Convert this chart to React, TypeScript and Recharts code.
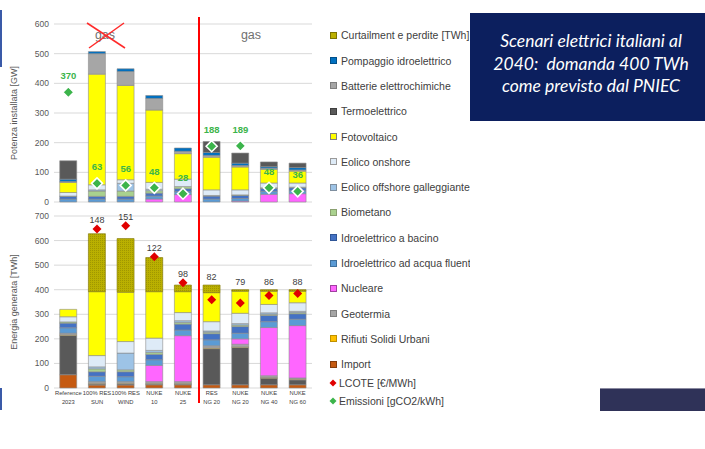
import React from 'react';
import { ComposedChart, Bar, Line, XAxis, YAxis, CartesianGrid, LabelList } from 'recharts';

const scenarios = [
  'Reference\n2023',
  '100% RES\nSUN',
  '100% RES\nWIND',
  'NUKE\n10',
  'NUKE\n25',
  'RES\nNG 20',
  'NUKE\nNG 20',
  'NUKE\nNG 40',
  'NUKE\nNG 60',
];

// Potenza installata [GW]
const gwNucleare = [0, 0, 0, 10, 25, 0, 3, 26, 28];
const gwIdroFluente = [10, 10, 10, 10, 10, 10, 9, 10, 10];
const gwIdroBacino = [9, 9, 9, 10, 10, 10, 10, 10, 10];
const gwBiometano = [1, 18, 18, 8, 7, 2, 2, 2, 2];
const gwEolicoOffshore = [0, 4, 26, 5, 0, 0, 0, 0, 0];
const gwEolicoOnshore = [12, 17, 12, 23, 25, 19, 17, 16, 14];
const gwFotovoltaico = [34, 373, 318, 244, 86, 110, 77, 46, 40];
const gwBatterie = [3, 69, 47, 39, 8, 6, 5, 4, 4];
const gwPompaggio = [8, 7, 9, 10, 11, 10, 8, 5, 8];
const gwTermo = [62, 0, 0, 0, 0, 37, 34, 16, 15];
const emissioni = [370, 63, 56, 48, 28, 188, 189, 48, 36];

// Energia generata [TWh]
const twhImport = [54, 12, 12, 13, 13, 13, 13, 13, 13];
const twhTermo = [160, 4, 4, 3, 3, 147, 152, 27, 20];
const twhRifiuti = [3, 3, 3, 3, 3, 3, 3, 3, 3];
const twhGeotermia = [6, 7, 7, 7, 7, 9, 10, 7, 5];
const twhNucleare = [0, 0, 0, 66, 187, 0, 22, 196, 213];
const twhIdroFluente = [22, 22, 20, 23, 23, 24, 23, 24, 26];
const twhIdroBacino = [19, 18, 20, 22, 24, 25, 27, 25, 22];
const twhBiometano = [5, 12, 8, 8, 7, 6, 6, 5, 5];
const twhEolicoOffshore = [0, 8, 68, 8, 7, 5, 6, 6, 5];
const twhEolicoOnshore = [21, 46, 47, 50, 33, 38, 42, 34, 35];
const twhFotovoltaico = [30, 260, 201, 189, 85, 118, 90, 54, 47];
const twhCurtailment = [0, 236, 218, 139, 27, 31, 6, 6, 6];
const lcote: (number | null)[] = [null, 148, 151, 122, 98, 82, 79, 86, 88];

const gwTicks = [0, 100, 200, 300, 400, 500, 600];
const twhTicks = [0, 100, 200, 300, 400, 500, 600, 700];
const TWH_MAX = 700;
const LCOTE_MAX = 160;

const FONT = '"Liberation Sans", Arial, sans-serif';
const TEXT_GREY = '#595959';
const SEG_STROKE = '#8c8c8c';

const COLORS = {
  curtailment: '#bcb000',
  pompaggio: '#0070c0',
  batterie: '#a6a6a6',
  termo: '#595959',
  fotovoltaico: '#ffff00',
  onshore: '#deebf7',
  offshore: '#9dc3e6',
  biometano: '#a9d18e',
  bacino: '#4472c4',
  fluente: '#5b9bd5',
  nucleare: '#ff66ff',
  geotermia: '#a5a5a5',
  rifiuti: '#ffc000',
  import: '#c55a11',
  lcote: '#e00000',
  emissioni: '#3cb44b',
};

// stacking order, bottom to top
const gwStack = [
  { key: 'nucleare', color: COLORS.nucleare, values: gwNucleare },
  { key: 'fluente', color: COLORS.fluente, values: gwIdroFluente },
  { key: 'bacino', color: COLORS.bacino, values: gwIdroBacino },
  { key: 'biometano', color: COLORS.biometano, values: gwBiometano },
  { key: 'offshore', color: COLORS.offshore, values: gwEolicoOffshore },
  { key: 'onshore', color: COLORS.onshore, values: gwEolicoOnshore },
  { key: 'fotovoltaico', color: COLORS.fotovoltaico, values: gwFotovoltaico },
  { key: 'batterie', color: COLORS.batterie, values: gwBatterie },
  { key: 'pompaggio', color: COLORS.pompaggio, values: gwPompaggio },
  { key: 'termo', color: COLORS.termo, values: gwTermo },
];

const twhStack = [
  { key: 'import', color: COLORS.import, values: twhImport },
  { key: 'termo', color: COLORS.termo, values: twhTermo },
  { key: 'rifiuti', color: COLORS.rifiuti, values: twhRifiuti },
  { key: 'geotermia', color: COLORS.geotermia, values: twhGeotermia },
  { key: 'nucleare', color: COLORS.nucleare, values: twhNucleare },
  { key: 'fluente', color: COLORS.fluente, values: twhIdroFluente },
  { key: 'bacino', color: COLORS.bacino, values: twhIdroBacino },
  { key: 'biometano', color: COLORS.biometano, values: twhBiometano },
  { key: 'offshore', color: COLORS.offshore, values: twhEolicoOffshore },
  { key: 'onshore', color: COLORS.onshore, values: twhEolicoOnshore },
  { key: 'fotovoltaico', color: COLORS.fotovoltaico, values: twhFotovoltaico },
];

const gwData = scenarios.map((name, i) => {
  const row: Record<string, unknown> = { name, emissioni: emissioni[i] };
  gwStack.forEach((s) => (row[s.key] = s.values[i]));
  return row;
});

const twhData = scenarios.map((name, i) => {
  const row: Record<string, unknown> = { name, curtailment: twhCurtailment[i], lcote: lcote[i] };
  twhStack.forEach((s) => (row[s.key] = s.values[i]));
  return row;
});

const twhTotals = scenarios.map(
  (_, i) => twhStack.reduce((sum, s) => sum + s.values[i], 0) + twhCurtailment[i]
);

const legendItems = [
  { label: 'Curtailment e perdite [TWh]', color: COLORS.curtailment, border: '#7d7400' },
  { label: 'Pompaggio idroelettrico', color: COLORS.pompaggio, border: '#004f8a' },
  { label: 'Batterie elettrochimiche', color: COLORS.batterie, border: '#7f7f7f' },
  { label: 'Termoelettrico', color: COLORS.termo, border: '#3f3f3f' },
  { label: 'Fotovoltaico', color: COLORS.fotovoltaico, border: '#7f7f7f' },
  { label: 'Eolico onshore', color: COLORS.onshore, border: '#9a9a9a' },
  { label: 'Eolico offshore galleggiante', color: COLORS.offshore, border: '#7f8f9f' },
  { label: 'Biometano', color: COLORS.biometano, border: '#8aa070' },
  { label: 'Idroelettrico a bacino', color: COLORS.bacino, border: '#2f5597' },
  { label: 'Idroelettrico ad acqua fluente', color: COLORS.fluente, border: '#41719c' },
  { label: 'Nucleare', color: COLORS.nucleare, border: '#a040a0' },
  { label: 'Geotermia', color: COLORS.geotermia, border: '#7f7f7f' },
  { label: 'Rifiuti Solidi Urbani', color: COLORS.rifiuti, border: '#bf9000' },
  { label: 'Import', color: COLORS.import, border: '#843c0c' },
];

const diamondPath = (cx: number, cy: number, r: number) =>
  `M${cx},${cy - r}L${cx + r},${cy}L${cx},${cy + r}L${cx - r},${cy}Z`;

const EmissionDot = (props: any) => {
  const { cx, cy, index } = props;
  if (cy == null || Number.isNaN(cy)) return <g key={`em-${index}`} />;
  return (
    <path
      key={`em-${index}`}
      d={diamondPath(cx, cy, 5.5)}
      fill={COLORS.emissioni}
      stroke="#ffffff"
      strokeWidth={1.6}
    />
  );
};

const LcoteDot = (props: any) => {
  const { cx, cy, index } = props;
  if (cy == null || Number.isNaN(cy)) return <g key={`lc-${index}`} />;
  return <path key={`lc-${index}`} d={diamondPath(cx, cy, 4.5)} fill={COLORS.lcote} />;
};

const EmissionLabel = (props: any) => {
  const x = props.x ?? props.viewBox?.x;
  const y = props.y ?? props.viewBox?.y;
  if (props.value == null || y == null) return null;
  return (
    <text x={x} y={y - 13} textAnchor="middle" fontSize={9.5} fontWeight="bold" fill={COLORS.emissioni} fontFamily={FONT}>
      {props.value}
    </text>
  );
};

// LCOTE value sits above the marker or above the bar, whichever is higher
const lcoteAboveBar = (i: number) => {
  const v = lcote[i];
  return v != null && v / LCOTE_MAX > twhTotals[i] / TWH_MAX;
};

const LcoteMarkerLabel = (props: any) => {
  const x = props.x ?? props.viewBox?.x;
  const y = props.y ?? props.viewBox?.y;
  const i = scenarios.indexOf(props.value);
  if (i < 0 || !lcoteAboveBar(i)) return null;
  return (
    <text x={x} y={y - 6} textAnchor="middle" fontSize={9} fill="#404040" fontFamily={FONT}>
      {lcote[i]}
    </text>
  );
};

const LcoteBarLabel = (props: any) => {
  const { x, y, width } = props;
  const i = scenarios.indexOf(props.value);
  if (i < 0 || lcote[i] == null || lcoteAboveBar(i)) return null;
  return (
    <text x={x + width / 2} y={y - 5} textAnchor="middle" fontSize={9} fill="#404040" fontFamily={FONT}>
      {lcote[i]}
    </text>
  );
};

const ScenarioTick = (props: any) => {
  const { x, y, payload } = props;
  const lines = String(payload.value).split('\n');
  return (
    <g transform={`translate(${x},${y})`}>
      <text textAnchor="middle" fontSize={5.8} fill="#404040" fontFamily={FONT}>
        {lines.map((line, i) => (
          <tspan key={i} x={0} dy={i === 0 ? 5 : 8.8}>
            {line}
          </tspan>
        ))}
      </text>
    </g>
  );
};

const tickStyle = { fontSize: 8.5, fill: TEXT_GREY, fontFamily: FONT };
const scenarioName = (row: any) => row.name;

const CapacityChart = () => (
  <ComposedChart
    width={330}
    height={214}
    data={gwData}
    margin={{ top: 24, right: 18, bottom: 12, left: 0 }}
    barCategoryGap="20%"
  >
    <CartesianGrid vertical={false} stroke="#d9d9d9" />
    <XAxis dataKey="name" hide />
    <YAxis
      domain={[0, 600]}
      ticks={gwTicks}
      width={54}
      axisLine={false}
      tickLine={false}
      tickSize={0}
      tickMargin={5}
      tick={tickStyle}
      label={{
        value: 'Potenza installata [GW]',
        angle: -90,
        position: 'insideLeft',
        offset: 14,
        style: { textAnchor: 'middle', fontSize: 9, fill: TEXT_GREY, fontFamily: FONT },
      }}
    />
    {gwStack.map((s) => (
      <Bar
        key={s.key}
        dataKey={s.key}
        stackId="gw"
        fill={s.color}
        stroke={SEG_STROKE}
        strokeWidth={0.6}
        isAnimationActive={false}
      />
    ))}
    <Line
      dataKey="emissioni"
      stroke="none"
      dot={EmissionDot}
      activeDot={false}
      isAnimationActive={false}
    >
      <LabelList dataKey="emissioni" content={EmissionLabel} />
    </Line>
  </ComposedChart>
);

const EnergyChart = () => (
  <ComposedChart
    width={330}
    height={216}
    data={twhData}
    margin={{ top: 16, right: 18, bottom: 0, left: 0 }}
    barCategoryGap="20%"
  >
    <defs>
      <pattern id="curtailDots" width="2" height="2" patternUnits="userSpaceOnUse">
        <rect width="2" height="2" fill="#bab000" />
        <rect width="1" height="1" fill="#a09700" />
      </pattern>
    </defs>
    <CartesianGrid vertical={false} stroke="#d9d9d9" />
    <XAxis
      dataKey="name"
      height={28}
      interval={0}
      axisLine={false}
      tickLine={false}
      tickSize={0}
      tickMargin={2}
      tick={ScenarioTick}
    />
    <YAxis
      domain={[0, TWH_MAX]}
      ticks={twhTicks}
      width={54}
      axisLine={false}
      tickLine={false}
      tickSize={0}
      tickMargin={5}
      tick={tickStyle}
      label={{
        value: 'Energia generata [TWh]',
        angle: -90,
        position: 'insideLeft',
        offset: 14,
        style: { textAnchor: 'middle', fontSize: 9, fill: TEXT_GREY, fontFamily: FONT },
      }}
    />
    <YAxis yAxisId="lcote" orientation="right" domain={[0, LCOTE_MAX]} hide />
    {twhStack.map((s) => (
      <Bar
        key={s.key}
        dataKey={s.key}
        stackId="twh"
        fill={s.color}
        stroke={SEG_STROKE}
        strokeWidth={0.6}
        isAnimationActive={false}
      />
    ))}
    <Bar
      dataKey="curtailment"
      stackId="twh"
      fill="url(#curtailDots)"
      stroke="#7d7400"
      strokeWidth={0.6}
      isAnimationActive={false}
    >
      <LabelList dataKey={scenarioName} content={LcoteBarLabel} />
    </Bar>
    <Line
      yAxisId="lcote"
      dataKey="lcote"
      stroke="none"
      dot={LcoteDot}
      activeDot={false}
      isAnimationActive={false}
    >
      <LabelList dataKey={scenarioName} content={LcoteMarkerLabel} />
    </Line>
  </ComposedChart>
);

const Legend = () => (
  <div
    style={{
      position: 'absolute',
      left: 327,
      top: 0,
      width: 143,
      height: 420,
      overflow: 'hidden',
      fontFamily: FONT,
      fontSize: 10.5,
      color: '#404040',
      whiteSpace: 'nowrap',
    }}
  >
    {legendItems.map((item, i) => (
      <div key={item.label} style={{ position: 'absolute', left: 0, top: 35.3 + i * 25.3 - 7, height: 14, display: 'flex', alignItems: 'center' }}>
        <span
          style={{
            display: 'inline-block',
            width: 5,
            height: 5,
            marginLeft: 3,
            marginRight: 4,
            background: item.color,
            border: `1px solid ${item.border}`,
          }}
        />
        {item.label}
      </div>
    ))}
    {[
      { label: 'LCOTE [€/MWh]', color: COLORS.lcote, top: 382.7 },
      { label: 'Emissioni [gCO2/kWh]', color: COLORS.emissioni, top: 400.5 },
    ].map((item) => (
      <div key={item.label} style={{ position: 'absolute', left: 0, top: item.top - 7, height: 14, display: 'flex', alignItems: 'center' }}>
        <svg width={12} height={10} style={{ marginLeft: 0 }}>
          <path d={diamondPath(6, 5, 3.5)} fill={item.color} />
        </svg>
        {item.label}
      </div>
    ))}
  </div>
);

export default function App() {
  return (
    <div
      style={{
        position: 'absolute',
        left: 0,
        top: 0,
        width: 705,
        height: 449,
        overflow: 'hidden',
        background: '#ffffff',
        fontFamily: FONT,
      }}
    >
      <div style={{ position: 'absolute', left: 0, top: 10, width: 2, height: 57, background: '#3a5aa8' }} />
      <div style={{ position: 'absolute', left: 0, top: 388, width: 2, height: 22, background: '#3a5aa8' }} />

      <div style={{ position: 'absolute', left: 0, top: 0 }}>
        <CapacityChart />
      </div>
      <div style={{ position: 'absolute', left: 0, top: 200 }}>
        <EnergyChart />
      </div>

      <div style={{ position: 'absolute', left: 197.5, top: 17, width: 2, height: 386, background: '#ff0000' }} />

      <svg style={{ position: 'absolute', left: 0, top: 0 }} width={330} height={60}>
        <text x={105} y={38.5} textAnchor="middle" fontSize={12.5} fill="#707070" fontFamily={FONT}>
          gas
        </text>
        <text x={251} y={38.5} textAnchor="middle" fontSize={12.5} fill="#707070" fontFamily={FONT}>
          gas
        </text>
        <line x1={87} y1={23} x2={125} y2={48} stroke="#ff2a2a" strokeWidth={1.5} />
        <line x1={124} y1={23} x2={89} y2={48} stroke="#ff2a2a" strokeWidth={1.5} />
      </svg>

      <Legend />

      <div
        style={{
          position: 'absolute',
          left: 470,
          top: 13,
          width: 235,
          height: 108,
          background: '#0c1f5e',
        }}
      >
        <div
          style={{
            position: 'absolute',
            left: 0,
            top: 17,
            width: 242,
            textAlign: 'center',
            color: '#ffffff',
            fontFamily: 'Lato, "Open Sans", sans-serif',
            fontStyle: 'italic',
            fontSize: 17.5,
            lineHeight: '22.5px',
          }}
        >
          Scenari elettrici italiani al
          <br />
          2040:&nbsp; domanda 400 TWh
          <br />
          come previsto dal PNIEC
        </div>
      </div>

      <div style={{ position: 'absolute', left: 600, top: 388, width: 105, height: 22, background: '#2f3258', borderTop: '1px solid #8a8aa0' }} />
    </div>
  );
}
